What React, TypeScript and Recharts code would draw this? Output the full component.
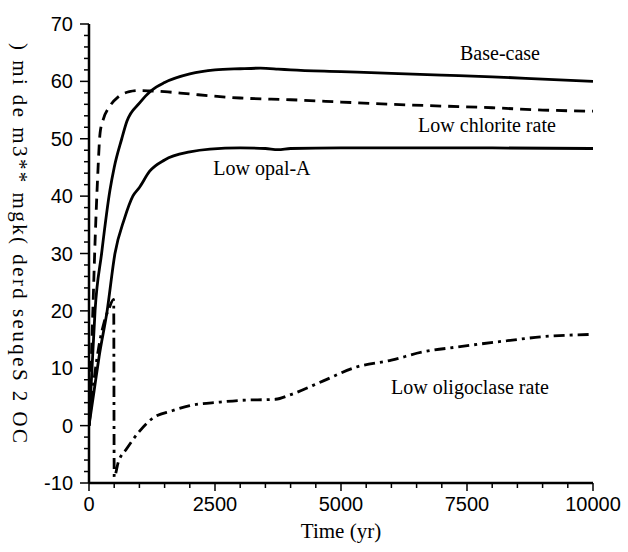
import React from 'react';
import { LineChart, Line, XAxis, YAxis, ReferenceDot, Customized } from 'recharts';

// Base-case
const baseT = [0, 60, 120, 250, 415, 500, 650, 750, 1000, 1250, 1500, 2000, 2500, 3000, 3400, 3750, 4000, 5000, 6000, 7000, 8000, 9000, 10000];
const baseV = [0, 10, 20, 30, 41, 45, 50, 53, 56.2, 58.5, 59.8, 61.3, 62, 62.2, 62.3, 62.15, 62.0, 61.7, 61.4, 61.1, 60.8, 60.4, 60.0];
// Low chlorite rate
const chlorT = [0, 40, 80, 120, 170, 220, 280, 400, 580, 800, 1000, 1500, 2000, 3000, 4000, 5000, 6000, 7000, 8000, 9000, 10000];
const chlorV = [0, 10, 21, 32, 43, 51, 53.3, 55.5, 57.3, 58.2, 58.4, 58.2, 57.8, 57.1, 56.8, 56.4, 56.0, 55.7, 55.4, 55.0, 54.8];
// Low opal-A
const opalT = [0, 100, 200, 360, 515, 700, 870, 1000, 1200, 1500, 2000, 2400, 3000, 3500, 3750, 4000, 5000, 6000, 8000, 10000];
const opalV = [0, 6, 12, 20, 30, 36, 40, 41.5, 44.3, 46.3, 47.7, 48.2, 48.4, 48.3, 48.1, 48.3, 48.4, 48.4, 48.4, 48.3];
// Low oligoclase rate
const oligT = [0, 100, 200, 300, 400, 490, 500, 580, 750, 1000, 1250, 1650, 2000, 2600, 3000, 3700, 4000, 4650, 5300, 6000, 6600, 7300, 8300, 9000, 10000];
const oligV = [0, 8, 14, 18, 20.5, 22, -9, -6.4, -4, -1, 1.2, 2.6, 3.5, 4.1, 4.4, 4.6, 5.4, 7.8, 10.2, 11.4, 12.8, 13.7, 14.8, 15.5, 15.9];

const xTicks = [0, 500, 1000, 1500, 2000, 2500, 3000, 3500, 4000, 4500, 5000, 5500, 6000, 6500, 7000, 7500, 8000, 8500, 9000, 9500, 10000];
const xMajor = [0, 2500, 5000, 7500, 10000];
const yTicks = [-10, -8, -6, -4, -2, 0, 2, 4, 6, 8, 10, 12, 14, 16, 18, 20, 22, 24, 26, 28, 30, 32, 34, 36, 38, 40, 42, 44, 46, 48, 50, 52, 54, 56, 58, 60, 62, 64, 66, 68, 70];
const yMajor = [-10, 0, 10, 20, 30, 40, 50, 60, 70];

const yLabel = ') mi de m3** mgk( derd seuqeS 2 OC';
const xLabel = 'Time (yr)';

const annotations = [
  { text: 'Base-case', t: 8155, v: 64.9 },
  { text: 'Low chlorite rate', t: 7896, v: 52.4 },
  { text: 'Low opal-A', t: 3432, v: 44.9 },
  { text: 'Low oligoclase rate', t: 7559, v: 6.7 },
];

const toData = (ts: number[], vs: number[]) => ts.map((t, i) => ({ t, v: vs[i] }));
const baseData = toData(baseT, baseV);
const chlorData = toData(chlorT, chlorV);
const opalData = toData(opalT, opalV);
const oligData = toData(oligT, oligV);

const SANS = 'Liberation Sans, Arial, sans-serif';
const SERIF = 'Liberation Serif, Times New Roman, serif';

const XTick = (props: any) => {
  const { x, y, payload } = props;
  const major = xMajor.includes(payload.value);
  return (
    <g>
      <line x1={x} x2={x} y1={y} y2={y + (major ? 8 : 5)} stroke="#000" strokeWidth={1.5} />
      {major && (
        <text x={x} y={y + 28} textAnchor="middle" fontFamily={SANS} fontSize={20} fill="#000">
          {payload.value}
        </text>
      )}
    </g>
  );
};

const YTick = (props: any) => {
  const { x, y, payload } = props;
  const major = yMajor.includes(payload.value);
  return (
    <g>
      <line x1={x} x2={x - (major ? 9 : 5)} y1={y} y2={y} stroke="#000" strokeWidth={1.5} />
      {major && (
        <text x={x - 16} y={y + 7} textAnchor="end" fontFamily={SANS} fontSize={20} fill="#000">
          {payload.value}
        </text>
      )}
    </g>
  );
};

const AxisTitles = () => (
  <g>
    <text x={341} y={538} textAnchor="middle" fontFamily={SERIF} fontSize={21} fill="#000">
      {xLabel}
    </text>
    <text
      x={20}
      y={243}
      transform="rotate(90, 20, 243)"
      textAnchor="middle"
      dominantBaseline="central"
      fontFamily={SERIF}
      fontSize={21}
      fill="#000"
      textLength={400}
      lengthAdjust="spacing"
    >
      {yLabel}
    </text>
  </g>
);

const Blank = () => null;

export default function App() {
  return (
    <div style={{ position: 'absolute', left: 0, top: 0, background: '#fff' }}>
      <LineChart width={628} height={552} margin={{ top: 24, right: 35, bottom: 39, left: 29 }}>
        <XAxis
          dataKey="t"
          type="number"
          domain={[0, 10000]}
          ticks={xTicks}
          interval={0}
          tickSize={0}
          tickMargin={0}
          tickLine={false}
          tick={<XTick />}
          axisLine={{ stroke: '#000', strokeWidth: 2.5 }}
          allowDataOverflow
          height={30}
        />
        <YAxis
          type="number"
          domain={[-10, 70]}
          ticks={yTicks}
          interval={0}
          tickSize={0}
          tickMargin={0}
          tickLine={false}
          tick={<YTick />}
          axisLine={{ stroke: '#000', strokeWidth: 2.5 }}
          allowDataOverflow
          width={60}
        />
        <Line data={baseData} dataKey="v" type="monotone" stroke="#000" strokeWidth={2.8} dot={false} isAnimationActive={false} />
        <Line data={chlorData} dataKey="v" type="monotone" stroke="#000" strokeWidth={2.8} strokeDasharray="11 7" dot={false} isAnimationActive={false} />
        <Line data={opalData} dataKey="v" type="monotone" stroke="#000" strokeWidth={2.8} dot={false} isAnimationActive={false} />
        <Line data={oligData} dataKey="v" type="monotone" stroke="#000" strokeWidth={2.8} strokeDasharray="11 5 3 5" dot={false} isAnimationActive={false} />
        {annotations.map((a) => (
          <ReferenceDot
            key={a.text}
            x={a.t}
            y={a.v}
            r={0}
            fill="none"
            stroke="none"
            shape={Blank}
            label={{ value: a.text, position: 'center', fontFamily: SERIF, fontSize: 20, fill: '#000' }}
          />
        ))}
        <Customized component={AxisTitles} />
      </LineChart>
    </div>
  );
}
